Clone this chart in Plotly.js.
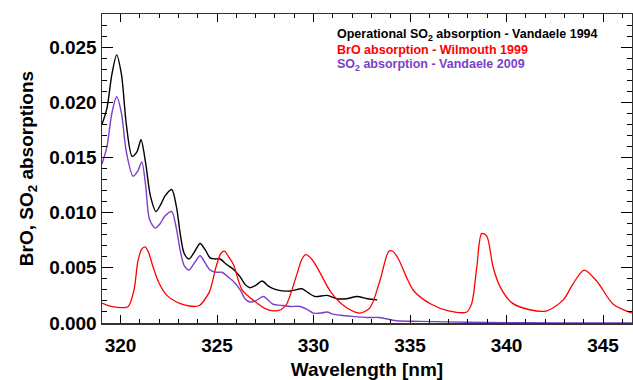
<!DOCTYPE html>
<html>
<head>
<meta charset="utf-8">
<script src="https://cdn.plot.ly/plotly-3.0.1.min.js"></script>
<style>html,body{margin:0;padding:0;background:#fff;}#chart{width:633px;height:380px;}</style>
</head>
<body>
<div id="chart"></div>
<script>
// Operational SO2 absorption - Vandaele 1994 (black)
var so2OpWl = [319.04,319.3,319.55,319.8,320.05,320.3,320.6,320.85,321.06,321.3,321.55,321.84,322.1,322.3,322.65,322.9,323.1,323.3,323.55,323.85,324.12,324.4,324.64,324.9,325.16,325.5,325.83,326.19,326.45,326.7,327.0,327.33,327.7,328.1,328.8,329.4,329.75,330.08,330.7,331.2,331.7,332.25,332.8,333.3];
var so2OpVal = [0.0180,0.0195,0.0225,0.0243,0.0225,0.0180,0.0151,0.0155,0.0166,0.0145,0.0115,0.0101,0.0108,0.0115,0.0121,0.0105,0.0080,0.0063,0.0058,0.0065,0.0072,0.0066,0.0059,0.0058,0.0058,0.0053,0.0049,0.0042,0.0035,0.0032,0.0034,0.0038,0.0033,0.0030,0.0029,0.0031,0.0027,0.0024,0.0025,0.0022,0.0022,0.0024,0.0022,0.0021];

// BrO absorption - Wilmouth 1999 (red)
var broWl = [319.04,319.5,320.0,320.4,320.7,320.9,321.1,321.27,321.45,321.7,322.0,322.4,322.9,323.4,323.9,324.1,324.6,324.95,325.2,325.4,325.6,325.85,326.3,327.0,327.5,327.9,328.3,328.6,329.1,329.4,329.6,329.9,330.2,330.9,331.7,332.4,332.93,333.45,333.9,334.1,334.4,334.8,335.2,336.1,337.0,337.94,338.2,338.46,338.71,338.97,339.3,339.66,340.3,341.2,342.08,342.94,343.46,344.02,344.67,345.53,346.5];
var broVal = [0.0018,0.0015,0.0014,0.0015,0.0030,0.0056,0.0067,0.0069,0.0064,0.0050,0.0036,0.0025,0.0019,0.0016,0.0015,0.0016,0.0028,0.0051,0.0063,0.0065,0.0060,0.0053,0.0030,0.0019,0.0013,0.0011,0.0012,0.0017,0.0042,0.0058,0.0062,0.0058,0.0050,0.0028,0.0014,0.0009,0.0014,0.0039,0.0065,0.0065,0.0058,0.0042,0.0029,0.0017,0.0011,0.0010,0.0018,0.0051,0.0081,0.0079,0.0051,0.0033,0.0018,0.0012,0.0011,0.0021,0.0036,0.0048,0.0038,0.0017,0.0009];

// SO2 absorption - Vandaele 2009 (purple)
var so2Wl = [319.04,319.3,319.55,319.8,320.05,320.3,320.65,320.9,321.1,321.3,321.5,321.8,322.05,322.3,322.65,322.9,323.1,323.3,323.55,323.85,324.12,324.4,324.64,324.95,325.26,325.55,325.83,326.2,326.45,326.7,327.0,327.4,327.9,328.3,328.8,329.3,329.7,330.0,330.4,330.7,331.0,331.4,332.0,332.8,333.4,334.3,335.5,336.9,339.0,341.0,344.0,346.5];
var so2Val = [0.0144,0.0160,0.0190,0.0205,0.0190,0.0155,0.0133,0.0138,0.0146,0.0125,0.0094,0.0086,0.0090,0.0097,0.0101,0.0085,0.0065,0.0052,0.0048,0.0055,0.0061,0.0054,0.0048,0.0046,0.0046,0.0042,0.0038,0.0030,0.0022,0.0019,0.0020,0.0024,0.0017,0.0016,0.0015,0.0015,0.0012,0.0009,0.0009,0.0010,0.0008,0.0007,0.0006,0.0005,0.0005,0.0002,0.00015,0.0001,0.00005,0.00002,0.0,0.0];

var seriesNames = ["Operational SO<sub>2</sub> absorption - Vandaele 1994","BrO absorption - Wilmouth 1999","SO<sub>2</sub> absorption - Vandaele 2009"];
var seriesColors = ["#000000","#ff0000","#7b3fc9"];

var FONT = "Liberation Sans, Arial, Helvetica, sans-serif";

var traces = [
  {x: so2OpWl, y: so2OpVal, mode: 'lines', line: {color: seriesColors[0], width: 1.4, shape: 'spline', smoothing: 0.8}, hoverinfo: 'skip'},
  {x: broWl, y: broVal, mode: 'lines', line: {color: seriesColors[1], width: 1.3, shape: 'spline', smoothing: 0.8}, hoverinfo: 'skip'},
  {x: so2Wl, y: so2Val, mode: 'lines', line: {color: seriesColors[2], width: 1.4, shape: 'spline', smoothing: 0.8}, hoverinfo: 'skip'}
];

var legendY = [0.932, 0.884, 0.836];
var annotations = seriesNames.map(function(n, i){
  return {text: '<b>' + n + '</b>', xref: 'paper', yref: 'paper', x: 0.4396, y: legendY[i],
          xanchor: 'left', yanchor: 'middle', showarrow: false,
          font: {family: FONT, size: 12.5, color: seriesColors[i]}};
});

var layout = {
  width: 633, height: 380,
  margin: {l: 102, r: 1, t: 14, b: 57},
  paper_bgcolor: '#ffffff', plot_bgcolor: '#ffffff',
  showlegend: false,
  xaxis: {
    range: [319.04, 346.5], dtick: 5, tick0: 320,
    showgrid: false, zeroline: false,
    showline: true, linecolor: '#333', linewidth: 1.5, mirror: 'allticks',
    ticks: 'inside', ticklen: 8, tickcolor: '#000', tickwidth: 1,
    minor: {dtick: 1, ticks: 'inside', ticklen: 4, tickcolor: '#000', showgrid: false},
    tickfont: {family: FONT, size: 19, color: '#000', weight: 'bold'},
    ticklabelstandoff: 5,
    title: {text: '<b>Wavelength [nm]</b>', font: {family: FONT, size: 19, color: '#000'}, standoff: 14}
  },
  yaxis: {
    range: [0, 0.028], dtick: 0.005, tick0: 0, tickformat: '.3f',
    showgrid: false, zeroline: false,
    showline: true, linecolor: '#333', linewidth: 1.5, mirror: 'allticks',
    ticks: 'inside', ticklen: 11, tickcolor: '#000', tickwidth: 1,
    minor: {dtick: 0.001, ticks: 'inside', ticklen: 5, tickcolor: '#000', showgrid: false},
    tickfont: {family: FONT, size: 19, color: '#000', weight: 'bold'},
    title: {text: '<b>BrO, SO<sub>2</sub> absorptions</b>', font: {family: FONT, size: 19, color: '#000'}, standoff: 10}
  },
  annotations: annotations
};

Plotly.newPlot('chart', traces, layout, {staticPlot: true, displayModeBar: false});
</script>
</body>
</html>
